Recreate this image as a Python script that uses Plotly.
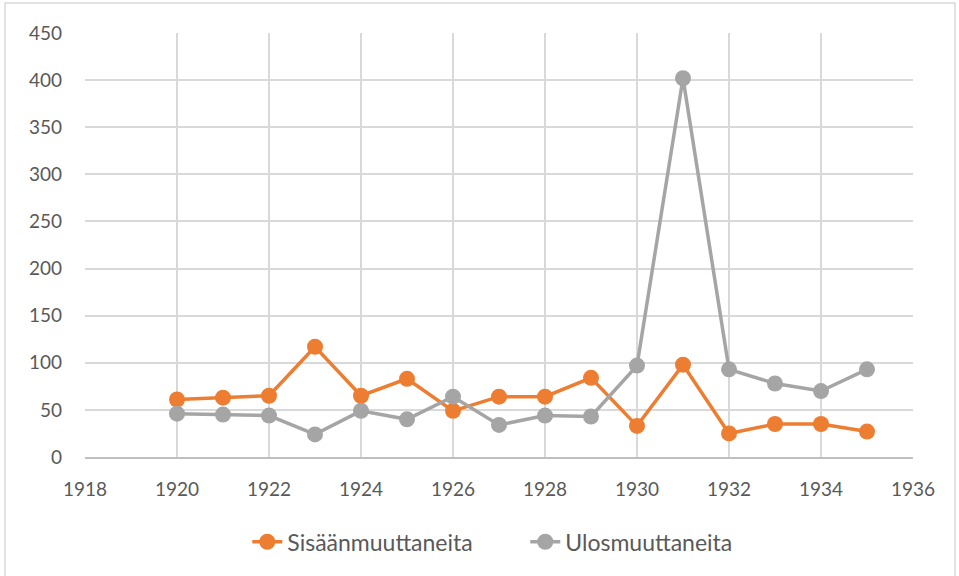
import plotly.graph_objects as go

years = list(range(1920, 1936))
sisaan = [61, 63, 65, 117, 65, 83, 49, 64, 64, 84, 33, 98, 25, 35, 35, 27]
ulos = [46, 45, 44, 24, 49, 40, 64, 34, 44, 43, 97, 402, 93, 78, 70, 93]
series_names = ["Sisäänmuuttaneita", "Ulosmuuttaneita"]
colors = ["#ED7D31", "#A5A5A5"]

fig = go.Figure()
for name, vals, c in zip(series_names, [sisaan, ulos], colors):
    fig.add_trace(go.Scatter(
        x=years, y=vals, name=name, mode="lines+markers",
        line=dict(color=c, width=3.5),
        marker=dict(color=c, size=16),
    ))

font = dict(family="Lato, 'Open Sans', sans-serif", size=19, color="#595959")
legend_font = dict(family="Lato, 'Open Sans', sans-serif", size=23, color="#595959")
fig.update_layout(
    width=959, height=576,
    margin=dict(l=85, r=46, t=33, b=119, autoexpand=False),
    plot_bgcolor="white", paper_bgcolor="white",
    font=font,
    showlegend=True,
    legend=dict(orientation="h", x=0.196, xanchor="left", y=-0.2, yanchor="middle",
                font=legend_font, traceorder="normal",
                entrywidth=233, entrywidthmode="pixels"),
    xaxis=dict(range=[1918, 1936], dtick=2, tick0=1918, showgrid=True,
               gridcolor="#D9D9D9", gridwidth=1.5, zeroline=False,
               showline=True, linecolor="#BFBFBF", linewidth=1.5,
               ticks="", ticklen=0, tickfont=font, ticklabelstandoff=14),
    yaxis=dict(range=[0, 450], dtick=50, showgrid=True, gridcolor="#D9D9D9",
               gridwidth=1.5, zeroline=False, showline=False, ticks="",
               tickfont=font, ticklabelstandoff=22),
    shapes=[dict(type="rect", xref="paper", yref="paper",
                 x0=-0.0966, x1=1.0507, y0=-0.30, y1=1.0708,
                 line=dict(color="#D9D9D9", width=1.5), fillcolor="rgba(0,0,0,0)",
                 layer="below")],
)
fig.write_html("out.html", config={"displayModeBar": False},
               post_script="document.body.style.margin='0';")
